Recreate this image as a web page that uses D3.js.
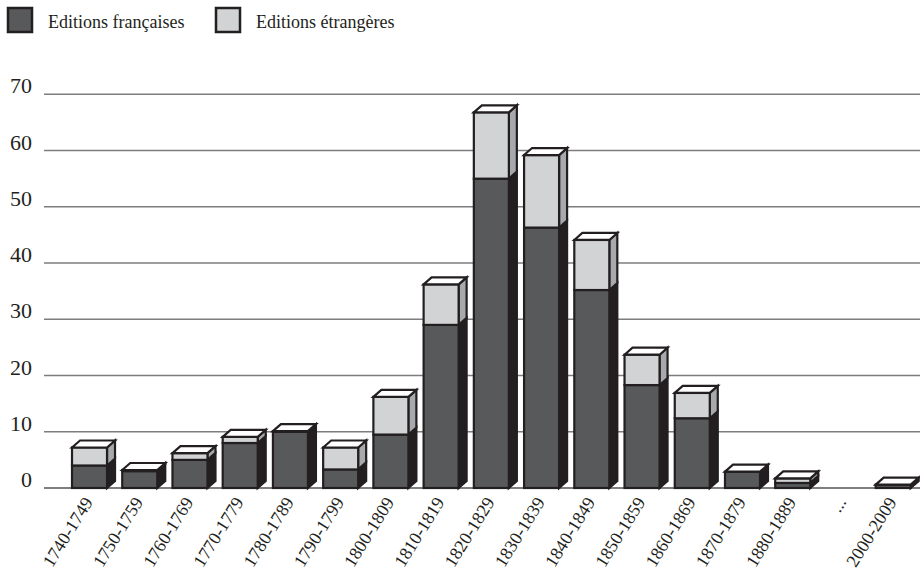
<!DOCTYPE html>
<html><head><meta charset="utf-8">
<script src="https://cdn.jsdelivr.net/npm/d3@7"></script>
<style>html,body{margin:0;padding:0;background:#fff;}
svg text{font-family:"Liberation Serif","Times New Roman",Tinos,"DejaVu Serif",serif;}</style>
</head><body>
<svg id="chart" width="920" height="578"></svg>
<script>
const categories = ["1740-1749","1750-1759","1760-1769","1770-1779","1780-1789","1790-1799","1800-1809","1810-1819","1820-1829","1830-1839","1840-1849","1850-1859","1860-1869","1870-1879","1880-1889","...","2000-2009"];
const francaises = [4, 3, 5, 8, 10, 3.3, 9.5, 29, 55, 46.3, 35.2, 18.3, 12.4, 2.9, 0.9, 0, 0.6];
const etrangeres = [3.2, 0.2, 1.2, 1.1, 0.1, 3.9, 6.7, 7.2, 11.8, 12.9, 8.9, 5.4, 4.5, 0, 0.8, 0, 0];
const yTicks = [0, 10, 20, 30, 40, 50, 60, 70];
const seriesNames = ["Editions françaises", "Editions étrangères"];

const W = 920, H = 578;
const svg = d3.select("#chart");
const ink = "#231f20";
const cDark = "#58595b", cLight = "#d1d3d4", cDarkSide = "#231f20", cLightSide = "#a7a9ac";

const y = d3.scaleLinear().domain([0, 70]).range([488, 94.3]);
const x = d3.scaleBand().domain(categories).range([64.4, 918.3]).paddingInner(0.303).paddingOuter(0.1515);
const bw = x.bandwidth();
const dx = 8, dy = 7;

// gridlines
svg.append("g").selectAll("line").data(yTicks).join("line")
  .attr("x1", 44).attr("x2", W)
  .attr("y1", d => y(d)).attr("y2", d => y(d))
  .attr("stroke", d => d === 0 ? "#555" : "#7d7d7d").attr("stroke-width", 1.5);

// y labels
svg.append("g").selectAll("text").data(yTicks).join("text")
  .attr("x", 32).attr("y", d => y(d) - 1)
  .attr("text-anchor", "end")
  .attr("font-size", 22).attr("fill", ink)
  .text(d => d);

// bars
const data = categories.map((c, i) => ({c, fr: francaises[i], et: etrangeres[i]}));
const g = svg.append("g");
data.filter(d => d.fr + d.et > 0).forEach(d => {
  const x0 = x(d.c), x1 = x0 + bw;
  const yb = y(0), yf = y(d.fr), yt = y(d.fr + d.et);
  const bg = g.append("g").attr("stroke", ink).attr("stroke-width", 2.2).attr("stroke-linejoin", "miter");
  bg.append("polygon").attr("fill", cDarkSide)
    .attr("points", [[x1, yb], [x1 + dx, yb - dy], [x1 + dx, yf - dy], [x1, yf]].join(" "));
  if (d.et > 0) {
    bg.append("polygon").attr("fill", cLightSide)
      .attr("points", [[x1, yf], [x1 + dx, yf - dy], [x1 + dx, yt - dy], [x1, yt]].join(" "));
  }
  bg.append("rect").attr("x", x0).attr("y", yf).attr("width", bw).attr("height", yb - yf).attr("fill", cDark);
  if (d.et > 0) {
    bg.append("rect").attr("x", x0).attr("y", yt).attr("width", bw).attr("height", yf - yt).attr("fill", cLight);
  }
  bg.append("polygon").attr("fill", "#fff")
    .attr("points", [[x0, yt], [x0 + dx, yt - dy], [x1 + dx, yt - dy], [x1, yt]].join(" "));
});

// x labels
svg.append("g").selectAll("text").data(categories).join("text")
  .attr("transform", d => `translate(${x(d) + bw / 2 + 4},${502}) rotate(-58)`)
  .attr("text-anchor", "end")
  .attr("font-size", 18).attr("fill", ink)
  .text(d => d);

// legend
const legend = svg.append("g");
const legItems = [{name: seriesNames[0], fill: cDark, x: 8}, {name: seriesNames[1], fill: cLight, x: 216}];
legItems.forEach(l => {
  legend.append("rect").attr("x", l.x).attr("y", 8).attr("width", 24).attr("height", 24)
    .attr("fill", l.fill).attr("stroke", ink).attr("stroke-width", 2.5);
  legend.append("text").attr("x", l.x + 40).attr("y", 28)
    .attr("font-size", 18).attr("fill", ink).text(l.name);
});
</script>
</body></html>
